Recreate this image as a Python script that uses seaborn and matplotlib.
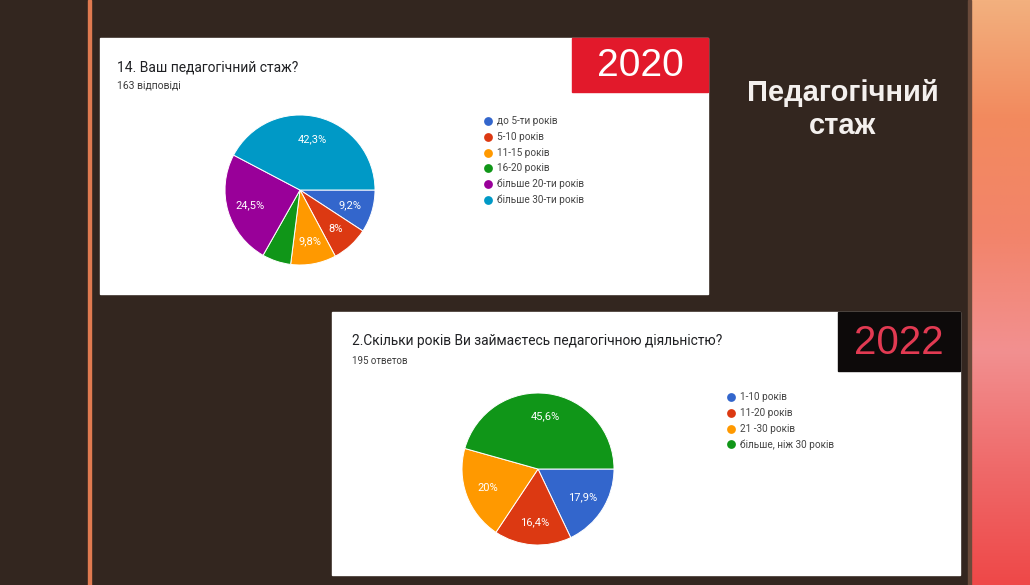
import numpy as np
import seaborn as sns
import matplotlib.pyplot as plt
from matplotlib.patches import Rectangle
from matplotlib.colors import LinearSegmentedColormap

# --- data ---
labels_2020 = ['до 5-ти років', '5-10 років', '11-15 років', '16-20 років',
               'більше 20-ти років', 'більше 30-ти років']
values_2020 = [9.2, 8.0, 9.8, 6.2, 24.5, 42.3]
pct_2020 = ['9,2%', '8%', '9,8%', '', '24,5%', '42,3%']

labels_2022 = ['1-10 років', '11-20 років', '21 -30 років', 'більше, ніж 30 років']
values_2022 = [17.9, 16.4, 20.0, 45.6]
pct_2022 = ['17,9%', '16,4%', '20%', '45,6%']

colors_2020 = ['#3366cc', '#dc3912', '#ff9900', '#109618', '#990099', '#0099c6']
colors_2022 = ['#3366cc', '#dc3912', '#ff9900', '#109618']

sns.set_theme(style='white')
plt.rcParams['font.family'] = ['Roboto', 'DejaVu Sans']

W, H = 1030, 585
fig = plt.figure(figsize=(W / 100, H / 100), dpi=100)
fig.patch.set_facecolor('#33261f')

# фон слайда в пикселях
bg = fig.add_axes([0, 0, 1, 1], zorder=0)
bg.set_xlim(0, W)
bg.set_ylim(H, 0)
bg.axis('off')
bg.set_facecolor('#33261f')

# правая градиентная полоса
grad_cmap = LinearSegmentedColormap.from_list(
    'side', ['#f3b07e', '#f28a5e', '#f2846a', '#f29090', '#ef6a6a', '#ee4848'])
grad = np.linspace(0, 1, 256).reshape(-1, 1)
bg.imshow(grad, cmap=grad_cmap, extent=[971, W, H, 0], aspect='auto', zorder=1)
bg.add_patch(Rectangle((968, 0), 3, H, color='#6a4a3a', zorder=2))

# оранжевая линия слева
bg.add_patch(Rectangle((88, 0), 2.5, H, color='#e07a50', zorder=2))

# панели
bg.add_patch(Rectangle((100, 38), 608, 256, color='white', zorder=2))
bg.add_patch(Rectangle((572, 38), 136, 54, color='#e2192b', zorder=3))
bg.add_patch(Rectangle((332, 312), 628, 263, color='white', zorder=2))
bg.add_patch(Rectangle((838, 312), 122, 59, color='#0d0a0a', zorder=3))

bg.text(640, 66, '2020', color='white', fontsize=28, ha='center', va='center',
        family=['Liberation Sans', 'DejaVu Sans'], zorder=4)
bg.text(899, 343, '2022', color='#e23a52', fontsize=29, ha='center', va='center',
        family=['Liberation Sans', 'DejaVu Sans'], zorder=4)

bg.text(843, 93, 'Педагогічний', color='#f4f0ee', fontsize=21, fontweight='bold',
        ha='center', va='center', family=['Liberation Sans', 'DejaVu Sans'], zorder=4)
bg.text(843, 126, 'стаж', color='#f4f0ee', fontsize=21, fontweight='bold',
        ha='center', va='center', family=['Liberation Sans', 'DejaVu Sans'], zorder=4)

# заголовки опросов
bg.text(117, 67, '14. Ваш педагогічний стаж?', color='#202124', fontsize=10,
        va='center', zorder=4)
bg.text(117, 85, '163 відповіді', color='#3c3c3c', fontsize=7.5, va='center', zorder=4)
bg.text(352, 341, '2.Скільки років Ви займаєтесь педагогічною діяльністю?',
        color='#202124', fontsize=9.9, va='center', zorder=4)
bg.text(352, 361, '195 ответов', color='#3c3c3c', fontsize=7, va='center', zorder=4)


def draw_legend(x0, y0, dy, labels, colors):
    for i, (lab, col) in enumerate(zip(labels, colors)):
        bg.scatter(x0, y0 + i * dy, s=40, color=col, zorder=4, linewidths=0)
        bg.text(x0 + 9, y0 + i * dy, lab, color='#444444', fontsize=7.2,
                va='center', zorder=4)


draw_legend(488, 121, 15.8, labels_2020, colors_2020)
draw_legend(731, 397, 15.8, labels_2022, colors_2022)


def draw_pie(cx, cy, r, values, colors, pct):
    ax = fig.add_axes([(cx - r) / W, 1 - (cy + r) / H, 2 * r / W, 2 * r / H], zorder=5)
    it = iter(pct)
    ax.pie(values, colors=colors, startangle=0, counterclock=False,
           autopct=lambda p: next(it), pctdistance=0.7,
           wedgeprops=dict(edgecolor='white', linewidth=0.7),
           textprops=dict(color='white', fontsize=8))
    ax.set_xlim(-1, 1)
    ax.set_ylim(-1, 1)
    ax.set_aspect('equal')
    ax.axis('off')
    return ax


draw_pie(300, 190, 75, values_2020, colors_2020, pct_2020)
draw_pie(538, 469, 76, values_2022, colors_2022, pct_2022)

fig.savefig('out.png', dpi=100, facecolor=fig.get_facecolor())
